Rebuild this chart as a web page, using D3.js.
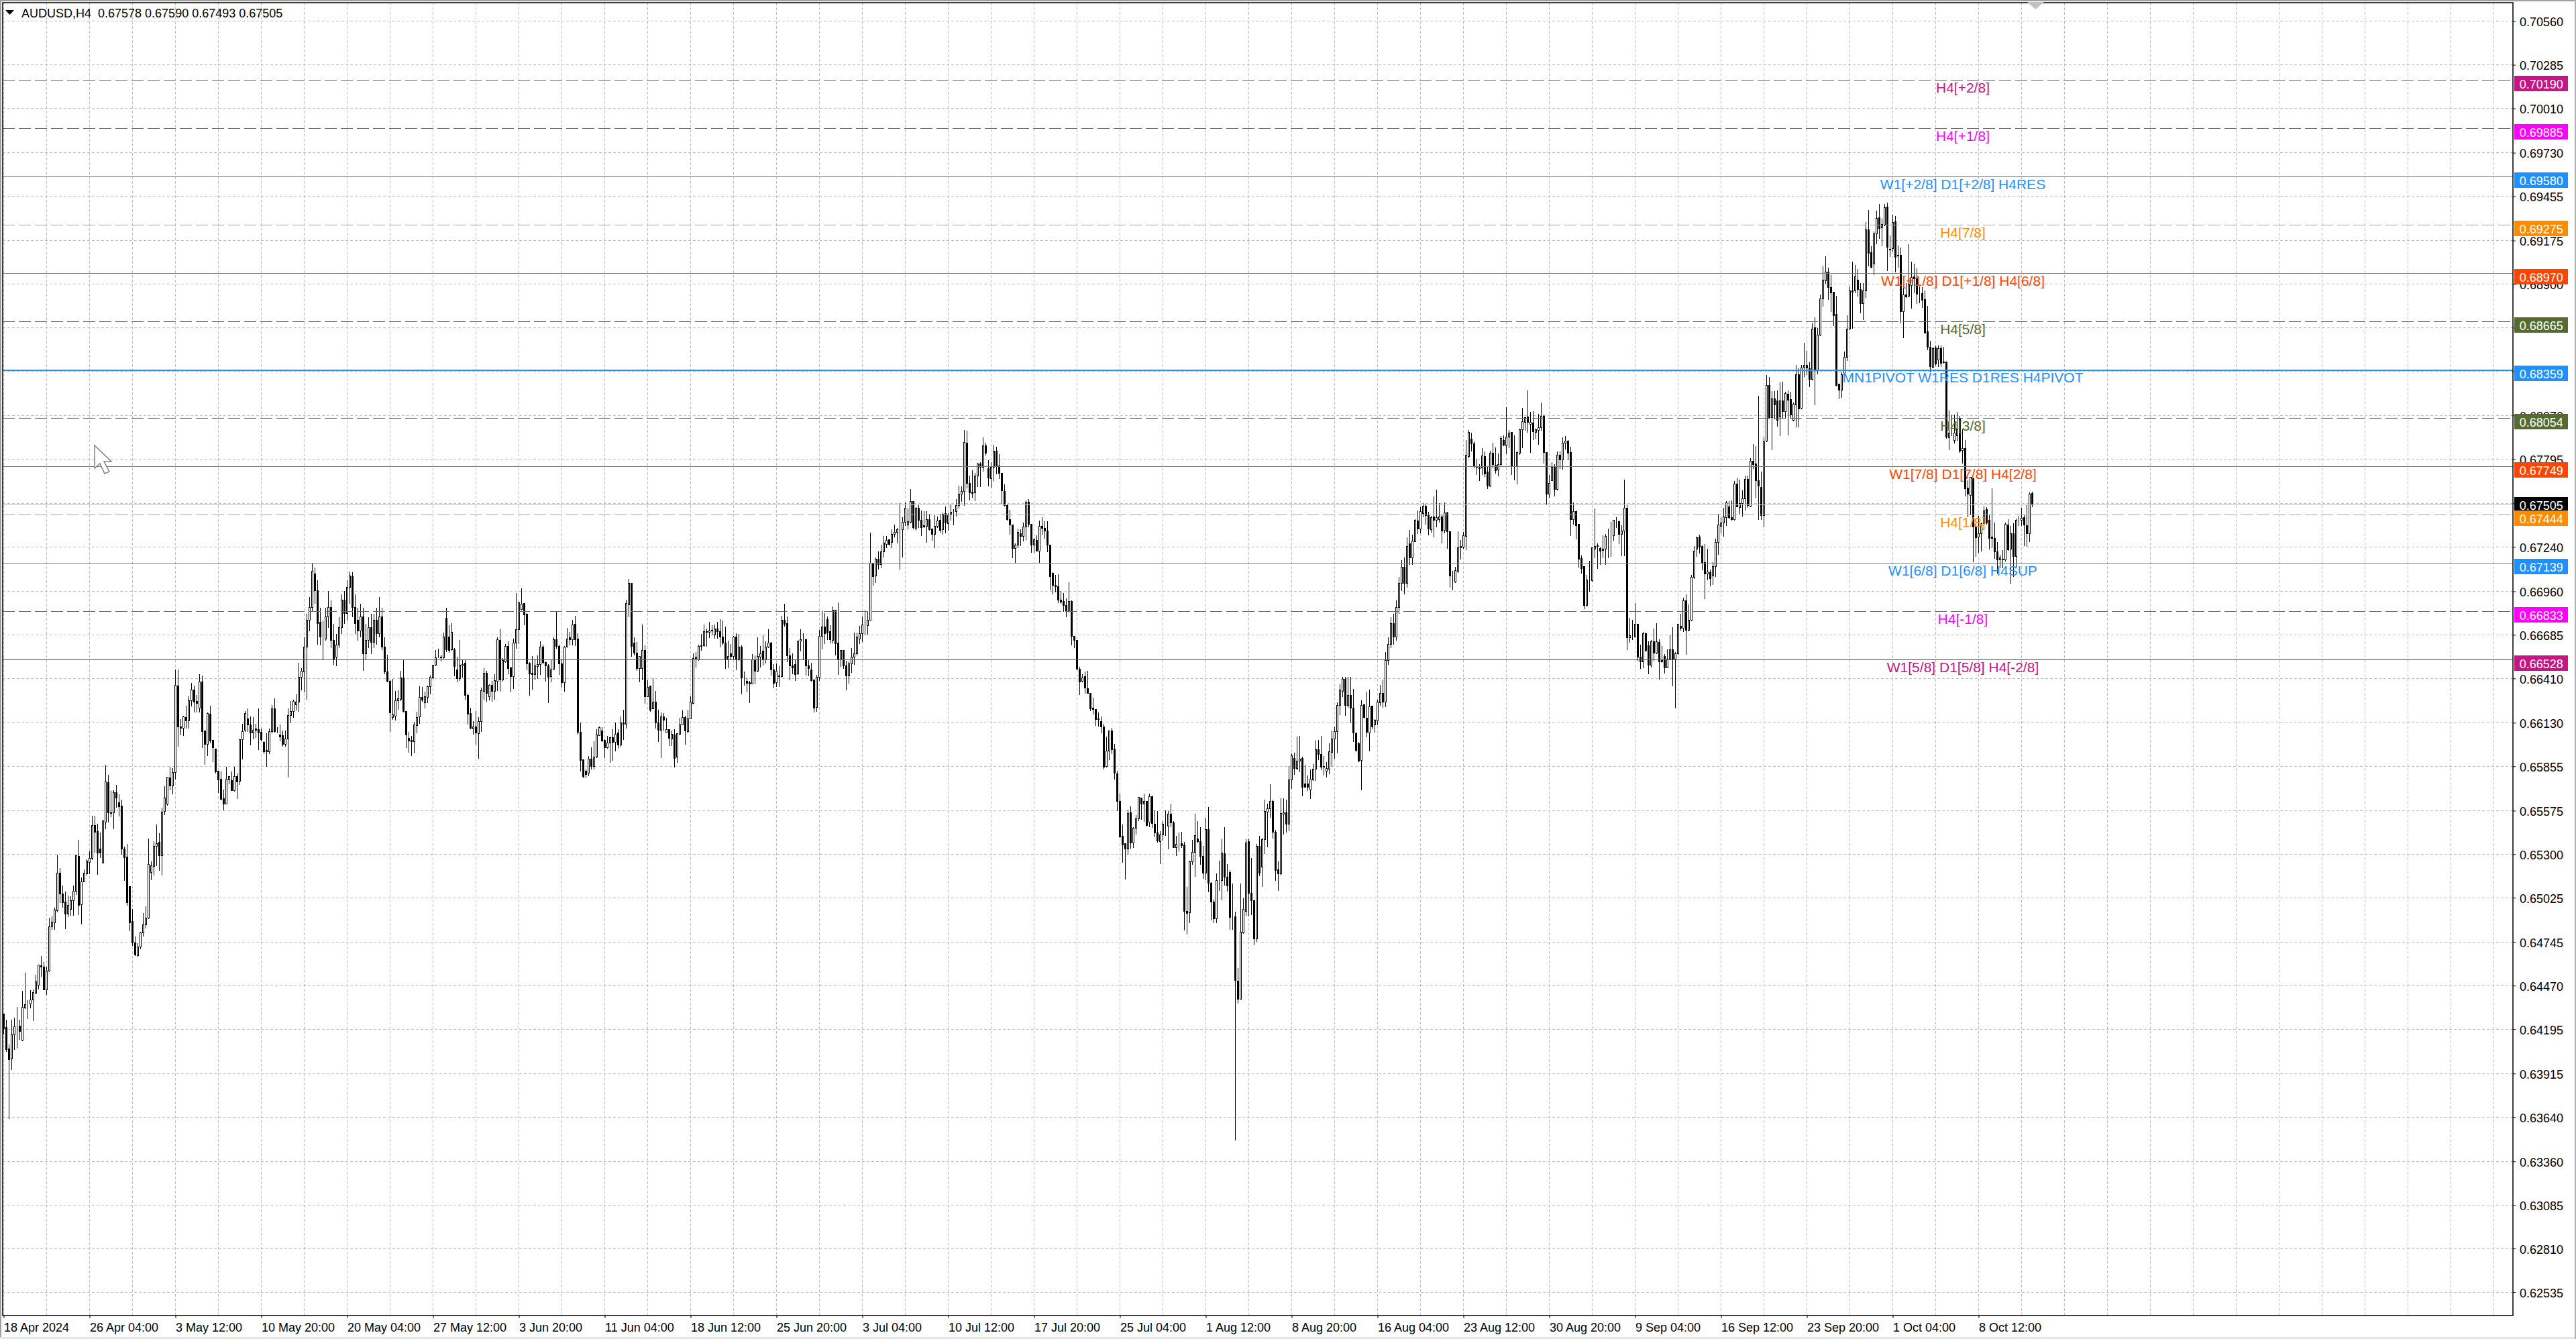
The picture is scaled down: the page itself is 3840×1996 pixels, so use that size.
<!DOCTYPE html>
<html>
<head>
<meta charset="utf-8">
<title>AUDUSD,H4</title>
<script src="https://cdn.jsdelivr.net/npm/d3@7"></script>
<style>
html, body { margin: 0; background: #fff; }
svg { display: block; }
text { font-family: "Liberation Sans", Arial, sans-serif; font-size: 18px; fill: #000; white-space: pre; }
</style>
</head>
<body>
<script>
// H4 candles, one list per three axis labels: [open, high, low, close] in 0.00001
var barsApr18 = [
[64291,64291,64166,64197],[64207,64257,64055,64065],[64069,64102,63631,64005],[64009,64257,63940,64160],[64160,64271,64065,64211],[64215,64336,64075,64215],[64215,64257,64130,64182],[64126,64439,64122,64332],
[64328,64554,64324,64352],[64358,64378,64263,64358],[64356,64443,64328,64380],[64378,64449,64247,64425],[64423,64540,64419,64493],[64473,64603,64449,64600],[64598,64661,64530,64586],[64586,64621,64445,64445],
[64445,64590,64413,64564],[64560,64903,64556,64843],[64843,64908,64823,64873],[64869,64964,64823,64948],[64944,65301,64934,65180],[65180,65213,64994,65049],[65051,65106,64964,64994],[64998,65065,64829,64924],
[64922,65039,64904,64978],[64950,65035,64914,65005],[65005,65106,64914,65065],[65065,65301,65045,65291],[65287,65394,64918,64978],[64982,65156,64857,65126],[65126,65206,65126,65180],[65176,65271,65166,65257],
[65247,65322,65176,65273],[65273,65544,65267,65483],[65483,65544,65314,65439],[65443,65495,65172,65307],[65332,65439,65277,65307],[65243,65514,65243,65510],[65503,65867,65459,65756],[65752,65802,65503,65564],
[65558,65701,65536,65564],[65560,65705,65459,65687],[65687,65738,65596,65657],[65625,65681,65540,65600],[65606,65645,65301,65332],[65332,65348,65136,65277],[65281,65368,64978,64994],[65095,65095,64817,64869],
[64877,64954,64722,64742],[64742,64782,64661,64665],[64661,64742,64655,64716],[64716,64813,64702,64803],[64803,64930,64782,64853],[64853,64974,64833,64897],[64897,65402,64893,65237],[65186,65257,65140,65227],
[65223,65382,65166,65348],[65348,65489,65227,65368],[65374,65435,65196,65291],[65291,65596,65170,65566],[65570,65732,65550,65655],[65615,65792,65610,65786],[65782,65853,65705,65732],[65732,65847,65681,65817],
[65817,66469,65772,66368],[66364,66469,65980,66105],[66105,66156,66055,66095],[66095,66176,66049,66166],[66162,66241,66095,66142],[66142,66297,66095,66271],[66271,66384,66237,66338],[66338,66368,66196,66263],
[66267,66307,66196,66251],[66223,66439,66196,66388],[66388,66429,65974,66075],[66079,66079,65867,65994],[65994,66196,65924,66190],[66186,66241,66004,66015],[66019,66025,65883,65974],[65964,65968,65813,65819],
[65823,65827,65691,65768],[65772,65823,65641,65645],[65651,65711,65580,65617],[65617,65853,65617,65772],[65768,65796,65746,65792],[65766,65823,65701,65701],[65701,65853,65697,65792],[65792,65813,65651,65758],
[65762,66029,65738,66025],[66025,66126,65899,66075],[66085,66206,66075,66190],[66156,66223,66075,66115],[66115,66170,65988,66065],[66065,66166,66029,66081],[66091,66126,66035,66085],[66089,66223,65960,66065]
];
var barsMay10 = [
[66069,66095,66015,66025],[66008,66015,65934,65948],[65954,66065,65853,65948],[65948,66095,65934,66075],[66075,66243,66065,66218],[66218,66287,66069,66075],[66073,66105,66065,66073],[66053,66122,66015,66041],
[66049,66085,65980,65992],[65992,66085,65980,66029],[66029,66223,65788,66176],[66176,66271,66130,66202],[66202,66277,66162,66267],[66243,66311,66210,66259],[66263,66509,66202,66416],[66416,66479,66338,66457],
[66453,66671,66324,66610],[66610,66818,66276,66776],[66776,66924,66712,66860],[66860,67136,66839,67085],[67072,67114,66882,66966],[66966,67030,66627,66755],[66763,66860,66619,66670],[66661,66776,66534,66661],
[66661,66860,66649,66797],[66797,66966,66733,66860],[66860,66903,66606,66649],[66649,66755,66500,66534],[66543,66691,66488,66619],[66619,66797,66606,66733],[66733,66945,66691,66903],[66903,66966,66755,66818],
[66818,67030,66776,66987],[66987,67085,66882,67059],[67051,67081,66797,66860],[66860,66945,66691,66755],[66776,66860,66649,66712],[66712,66882,66670,66797],[66797,66860,66458,66568],[66568,66755,66526,66649],
[66649,66797,66606,66733],[66733,66818,66568,66640],[66640,66818,66606,66776],[66776,66860,66627,66691],[66691,66924,66670,66797],[66797,66860,66593,66610],[66610,66671,66439,66453],[66453,66560,66388,66394],
[66394,66400,66075,66192],[66162,66408,66150,66180],[66172,66332,66146,66271],[66271,66338,66216,66283],[66277,66459,66271,66412],[66412,66530,66196,66202],[66202,66206,65974,66055],[66031,66075,65944,66015],
[66018,66049,65920,66010],[66010,66136,65940,66115],[66112,66202,66065,66162],[66166,66364,66126,66291],[66291,66358,66267,66273],[66257,66328,66223,66295],[66291,66368,66257,66358],[66358,66429,66311,66418],
[66412,66499,66408,66493],[66493,66590,66489,66540],[66546,66600,66540,66546],[66540,66560,66520,66545],[66540,66700,66535,66671],[66790,66860,66580,66590],[66671,66750,66575,66586],[66590,66760,66585,66700],
[66590,66606,66425,66485],[66465,66550,66388,66408],[66408,66655,66398,66493],[66489,66534,66418,66499],[66505,66530,66277,66303],[66303,66317,66122,66186],[66188,66226,66092,66095],[66092,66142,66057,66106],
[66106,66205,65996,66064],[66061,66166,65906,66140],[66139,66353,66075,66332],[66329,66476,66276,66442],[66442,66462,66264,66315],[66294,66374,66273,66367],[66367,66395,66264,66329],[66329,66438,66278,66395],
[66393,66673,66332,66653],[66649,66724,66329,66400],[66400,66541,66391,66522],[66515,66631,66512,66614],[66614,66648,66438,66473],[66476,66487,66325,66421],[66421,66663,66346,66635],[66635,66950,66600,66720]
];
var barsJun03 = [
[66720,66896,66631,66889],[66844,66983,66840,66878],[66882,66885,66748,66811],[66814,66826,66466,66504],[66507,66515,66304,66438],[66442,66555,66342,66435],[66435,66536,66400,66491],[66487,66558,66410,66498],
[66498,66645,66433,66607],[66607,66625,66504,66511],[66512,66518,66393,66490],[66491,66501,66257,66417],[66424,66534,66388,66466],[66469,66670,66466,66653],[66653,66833,66600,66611],[66614,66625,66433,66504],
[66501,66536,66353,66384],[66384,66617,66329,66610],[66610,66730,66607,66661],[66666,66706,66621,66656],[66656,66780,66621,66748],[66751,66809,66617,66656],[66661,66699,66057,66071],[66070,66135,65824,65891],
[65895,65902,65782,65789],[65824,65838,65782,65803],[65810,65923,65796,65902],[65902,65975,65838,65853],[65853,66015,65838,65912],[65912,66092,65909,66053],[66050,66109,66050,66099],[66078,66106,66011,66015],
[66018,66029,65909,65972],[65972,66050,65968,66001],[66001,66043,65881,66036],[66036,66092,65892,66008],[66008,66132,65951,66057],[66064,66092,65968,65991],[65991,66174,65982,66128],[66128,66216,66022,66120],
[66123,66910,66095,66882],[66875,67041,66797,67009],[67009,67016,66548,66611],[66635,66670,66558,66572],[66572,66642,66459,66473],[66473,66548,66388,66548],[66473,66751,66402,66586],[66586,66621,66254,66294],
[66294,66400,66294,66356],[66363,66367,66202,66212],[66219,66414,66219,66259],[66259,66332,66095,66128],[66128,66216,66011,66082],[66082,66198,65909,66166],[66166,66194,66085,66146],[66071,66163,66071,66089],
[66089,66092,65987,66033],[66029,66085,65987,66057],[66053,66092,65848,65905],[65912,66064,65878,66060],[66057,66163,66054,66118],[66118,66208,66118,66163],[66163,66177,65994,66078],[66075,66208,66067,66153],
[66153,66297,66153,66259],[66254,66569,66247,66536],[66535,66579,66480,66546],[66529,66625,66522,66614],[66618,66692,66589,66613],[66617,66751,66614,66707],[66704,66727,66614,66701],[66701,66769,66668,66711],
[66715,66748,66684,66710],[66684,66752,66663,66721],[66721,66769,66663,66704],[66707,66786,66607,66670],[66670,66776,66621,66632],[66635,66738,66473,66529],[66529,66649,66477,66548],[66567,66628,66532,66548],
[66548,66682,66532,66673],[66670,66696,66463,66529],[66532,66692,66522,66607],[66607,66621,66311,66412],[66412,66456,66367,66412],[66391,66417,66324,66378],[66383,66398,66257,66376],[66376,66565,66374,66527],
[66527,66558,66374,66455],[66455,66673,66452,66548],[66546,66618,66480,66565],[66582,66684,66494,66532],[66529,66645,66508,66608],[66607,66724,66603,66635],[66635,66642,66431,66466],[66466,66504,66349,66381]
];
var barsJun25 = [
[66384,66508,66360,66456],[66428,66491,66360,66422],[66424,66809,66417,66779],[66779,66885,66741,66751],[66755,66804,66515,66553],[66555,66603,66402,66490],[66491,66572,66438,66477],[66497,66529,66395,66435],
[66438,66649,66434,66648],[66648,66724,66583,66656],[66656,66699,66529,66656],[66656,66663,66431,66490],[66491,66527,66428,66473],[66466,66512,66391,66395],[66400,66402,66198,66222],[66225,66433,66202,66419],
[66419,66720,66395,66677],[66675,66842,66596,66737],[66737,66826,66628,66694],[66780,66804,66656,66699],[66706,66748,66635,66653],[66651,66865,66635,66842],[66842,66842,66558,66631],[66635,66890,66435,66532],
[66529,66593,66484,66589],[66586,66589,66473,66490],[66491,66522,66338,66426],[66428,66518,66381,66504],[66504,66603,66448,66546],[66546,66701,66498,66567],[66565,66701,66558,66673],[66659,66744,66628,66691],
[66691,66804,66642,66749],[66749,66840,66684,66749],[66744,66833,66687,66779],[66779,67333,66776,67138],[67136,67136,66997,67054],[67057,67178,67017,67164],[67164,67213,67100,67129],[67129,67256,67108,67210],
[67210,67312,67178,67265],[67257,67312,67234,67282],[67284,67291,67251,67256],[67268,67354,67234,67322],[67319,67385,67302,67333],[67333,67364,67265,67350],[67353,67519,67100,67353],[67350,67429,67178,67397],
[67397,67523,67375,67485],[67378,67484,67354,67401],[67397,67608,67392,67528],[67528,67533,67354,67361],[67358,67495,67344,67485],[67485,67509,67361,67408],[67411,67471,67312,67364],[67373,67467,67361,67366],
[67371,67467,67270,67413],[67413,67453,67347,67351],[67354,67354,67280,67319],[67319,67446,67234,67371],[67371,67435,67361,67406],[67411,67453,67333,67347],[67350,67460,67319,67446],[67450,67499,67330,67394],
[67389,67456,67347,67443],[67446,67516,67411,67460],[67463,67481,67378,67463],[67466,67545,67435,67502],[67502,67629,67485,67573],[67573,67626,67528,67591],[67591,67982,67502,67900],[67897,67977,67612,67640],
[67643,67693,67538,67584],[67587,67725,67552,67580],[67584,67711,67533,67688],[67688,67773,67622,67766],[67766,67777,67619,67743],[67743,67935,67717,67879],[67880,67900,67822,67831],[67735,67791,67626,67674],
[67672,67777,67618,67745],[67745,67886,67657,67845],[67845,67876,67700,67746],[67752,67827,67671,67704],[67707,67707,67516,67594],[67591,67636,67499,67502],[67506,67516,67408,67415],[67413,67477,67319,67378],
[67380,67382,67171,67230],[67230,67267,67143,67253],[67253,67358,67237,67333],[67326,67354,67248,67309],[67309,67397,67277,67367],[67367,67537,67284,67523],[67523,67545,67368,67385],[67385,67389,67206,67251]
];
var barsJul17 = [
[67251,67298,67206,67288],[67280,67316,67213,67213],[67213,67408,67143,67371],[67371,67432,67319,67358],[67358,67404,67294,67340],[67342,67406,67209,67251],[67253,67256,66969,67055],[67076,67082,66945,66998],
[67000,67065,66955,66990],[66990,67072,66889,66903],[66906,66964,66882,66892],[66896,66952,66833,66871],[66871,66917,66797,66835],[66833,67020,66828,66896],[66896,66903,66621,66677],[66677,66682,66606,66652],
[66652,66656,66470,66470],[66469,66484,66309,66388],[66391,66438,66388,66415],[66424,66456,66318,66349],[66346,66459,66314,66314],[66314,66315,66205,66219],[66222,66290,66184,66215],[66215,66219,66111,66152],
[66157,66198,66109,66152],[66140,66170,66067,66106],[66105,66125,65836,65852],[65856,66044,65848,65953],[65953,66084,65896,66078],[66080,66098,65933,65961],[65963,65997,65775,65812],[65808,65828,65573,65636],
[65636,65686,65404,65408],[65414,65488,65250,65357],[65365,65371,65141,65333],[65333,65585,65301,65557],[65561,65606,65337,65373],[65373,65472,65343,65464],[65464,65549,65428,65523],[65523,65664,65509,65660],
[65656,65660,65519,65616],[65616,65684,65505,65636],[65636,65640,65478,65482],[65503,65684,65474,65664],[65664,65674,65468,65495],[65492,65577,65408,65434],[65434,65573,65377,65383],[65381,65448,65240,65422],
[65424,65513,65387,65492],[65478,65577,65418,65478],[65478,65573,65335,65555],[65553,65620,65474,65499],[65499,65509,65343,65343],[65343,65418,65290,65361],[65369,65440,65321,65369],[65369,65442,65343,65353],
[65357,65379,64822,64939],[64939,65094,64796,64927],[64929,65262,64868,65254],[65254,65391,65236,65311],[65311,65559,65161,65418],[65395,65509,65371,65379],[65381,65472,65236,65286],[65286,65355,65145,65181],
[65181,65533,65139,65456],[65456,65602,65064,65119],[65119,65125,64886,65000],[64998,65014,64868,64893],[64893,65179,64868,65135],[65133,65262,65072,65133],[65135,65398,65012,65307],[65303,65472,65105,65157],
[65155,65238,65068,65101],[65185,65202,64826,64903],[64907,65119,64826,64907],[64907,64939,63495,64503],[64499,64583,64357,64385],[64385,65119,64385,64806],[64802,65024,64798,64953],[64939,65398,64913,65371],
[65379,65402,64911,65054],[65054,65278,64919,65008],[65008,65012,64727,64767],[64767,65367,64749,65351],[65351,65418,65165,65179],[65218,65404,65095,65393],[65393,65646,65303,65569],[65567,65620,65347,65589],
[65589,65745,65533,65636],[65634,65648,65402,65438],[65438,65458,65133,65198],[65202,65256,65072,65175],[65175,65656,65169,65557],[65553,65654,65428,65561],[65561,65646,65438,65492],[65492,65858,65448,65771]
];
var barsAug08 = [
[65771,65937,65715,65923],[65903,65943,65802,65842],[65842,66044,65832,65886],[65886,66048,65822,65900],[65903,65917,65666,65725],[65743,65866,65721,65725],[65743,65799,65701,65721],[65707,65836,65650,65775],
[65771,65872,65765,65838],[65836,66018,65767,65961],[65961,66024,65896,65929],[65929,66048,65832,65848],[65848,65923,65801,65856],[65824,65882,65787,65840],[65836,66001,65808,65949],[65945,66084,65856,66028],
[66026,66105,65903,66074],[66074,66262,65937,66240],[66240,66377,66179,66337],[66329,66422,66296,66403],[66403,66422,66175,66240],[66240,66422,66226,66304],[66304,66422,66131,66224],[66224,66347,66010,66064],
[66060,66074,65949,65957],[66000,66010,65882,65888],[65892,66272,65705,66240],[66242,66246,66159,66163],[66161,66327,66040,66072],[66068,66343,65953,66232],[66236,66240,66090,66105],[66115,66155,66070,66145],
[66143,66276,66115,66260],[66256,66369,66240,66317],[66317,66407,66226,66262],[66260,66577,66232,66522],[66522,66670,66500,66627],[66627,66797,66606,66755],[66755,66818,66627,66670],[66670,66903,66649,66860],
[66860,67051,66818,67009],[67009,67157,66966,67114],[67114,67178,66945,67009],[67009,67305,66987,67242],[67262,67348,67128,67173],[67173,67318,67131,67278],[67275,67419,67272,67409],[67405,67474,67323,67353],
[67353,67495,67328,67465],[67452,67519,67429,67499],[67499,67515,67382,67437],[67440,67465,67315,67352],[67348,67440,67332,67427],[67432,67560,67303,67407],[67407,67602,67368,67424],[67415,67519,67395,67429],
[67432,67449,67265,67340],[67345,67524,67328,67454],[67454,67465,67232,67335],[67337,67340,66986,67056],[67056,67090,66968,67056],[67018,67118,67014,67090],[67085,67340,67078,67235],[67235,67285,67165,67242],
[67240,67337,67231,67310],[67308,67916,67223,67819],[67813,67983,67803,67966],[67923,67966,67844,67893],[67893,67908,67741,67746],[67748,67799,67696,67743],[67741,67766,67657,67736],[67741,67866,67696,67814],
[67813,67846,67686,67702],[67716,67749,67607,67624],[67624,67849,67619,67833],[67833,67900,67741,67761],[67758,67869,67704,67724],[67728,67833,67689,67761],[67761,67941,67758,67925],[67911,67946,67879,67883],
[67879,68125,67829,67936],[67936,67983,67866,67961],[67963,67970,67696,67746],[67749,67946,67662,67749],[67746,67846,67637,67838],[67833,67991,67824,67983],[67983,68120,67866,68030],[68028,68067,67975,68058],
[68062,68230,67966,68028],[68013,68097,67836,68028],[68023,68100,67916,67970],[67966,67991,67925,67981],[67978,68083,67886,67993],[67993,68155,67975,68067],[68067,68080,67769,67836],[67838,67841,67507,67576]
];
var barsAug30 = [
[67576,67699,67552,67644],[67661,67779,67657,67743],[67743,67766,67562,67602],[67604,67846,67599,67819],[67819,67846,67737,67789],[67789,67936,67732,67898],[67898,67941,67858,67909],[67908,67916,67791,67833],
[67836,67874,67312,67414],[67414,67524,67382,67462],[67465,67474,67290,67377],[67382,67385,67111,67165],[67168,67190,67073,67106],[67118,67123,66851,66872],[66871,67065,66867,67031],[67031,67156,66961,67031],
[67026,67240,67023,67235],[67228,67487,67173,67243],[67247,67265,67106,67242],[67230,67240,67128,67215],[67220,67315,67173,67228],[67228,67323,67131,67307],[67310,67357,67173,67310],[67315,67402,67181,67315],
[67310,67415,67282,67407],[67397,67429,67362,67397],[67402,67407,67262,67318],[67318,67378,67185,67340],[67340,67666,67185,67487],[67485,67512,66593,66667],[66667,66794,66637,66680],[66677,66781,66655,66677],
[66672,66886,66672,66752],[66752,66756,66522,66544],[66544,66627,66472,66513],[66513,66705,66477,66694],[66694,66700,66580,66588],[66617,66647,66438,66493],[66493,66655,66480,66644],[66644,66727,66522,66570],
[66570,66761,66564,66644],[66639,66660,66405,66517],[66513,66617,66510,66525],[66547,66567,66443,66477],[66477,66594,66477,66530],[66530,66684,66527,66592],[66592,66734,66363,66533],[66533,66580,66221,66567],
[66568,66756,66563,66752],[66740,66822,66714,66727],[66727,66922,66705,66901],[66901,66944,66560,66714],[66714,66881,66709,66777],[66777,67065,66772,67048],[67048,67248,67039,67215],[67228,67307,67181,67298],
[67302,67320,67201,67240],[67245,67252,67095,67140],[67143,67262,66914,67068],[67071,67232,67031,67081],[67078,67098,66994,67039],[67056,67145,67001,67118],[67115,67295,67053,67268],[67268,67452,67195,67378],
[67372,67432,67328,67393],[67393,67490,67308,67429],[67425,67532,67377,67517],[67494,67532,67419,67424],[67424,67535,67407,67414],[67415,67657,67407,67637],[67637,67679,67492,67495],[67490,67666,67445,67515],
[67515,67599,67435,67545],[67545,67691,67474,67669],[67669,67691,67490,67504],[67499,67803,67495,67783],[67783,67891,67736,67761],[67763,67879,67552,67657],[67657,68197,67415,67626],[67616,67719,67412,67440],
[67440,67936,67365,67906],[67909,68330,67906,68260],[68260,68317,68050,68058],[68058,68225,67853,68175],[68175,68225,68050,68137],[68163,68230,68000,68041],[68062,68280,67942,68161],[68165,68287,68055,68097],
[68097,68224,68058,68210],[68207,68231,67949,68168],[68170,68224,68055,68072],[68041,68153,68034,68142],[68139,68393,67998,68330],[68330,68372,67998,68114],[68118,68393,68114,68372],[68376,68531,68316,68386]
];
var barsSep23 = [
[68386,68481,68330,68369],[68365,68407,68252,68299],[68299,68654,68295,68616],[68623,68692,68139,68358],[68358,68626,68334,68577],[68577,68837,68574,68809],[68806,69014,68760,68925],[68922,69080,68904,68978],
[68978,69007,68802,68878],[68877,68960,68725,68844],[68851,68851,68636,68703],[68708,68830,68255,68259],[68269,68273,68175,68231],[68231,68344,68184,68327],[68327,68478,68323,68440],[68438,68706,68419,68615],
[68615,68887,68612,68856],[68856,69045,68619,68850],[68856,69025,68844,68947],[68926,68997,68823,68866],[68866,68908,68717,68778],[68778,68908,68675,68859],[68859,69296,68816,69245],[69243,69372,69013,69094],
[69098,69140,69002,69007],[69028,69236,68960,69218],[69218,69366,69155,69315],[69321,69408,69190,69253],[69256,69317,69143,69277],[69274,69408,69267,69384],[69387,69418,68985,69133],[69122,69208,69073,69116],
[69124,69342,69109,69291],[69294,69331,68978,69070],[69084,69148,69007,69077],[69084,69133,68654,68725],[68727,68880,68562,68833],[68833,68908,68816,68819],[68823,69155,68819,68898],[68890,69045,68746,68943],
[68946,69030,68844,68936],[68936,69002,68777,68837],[68840,68887,68781,68840],[68842,68884,68753,68798],[68802,68861,68591,68593],[68598,68763,68485,68502],[68502,68545,68344,68379],[68376,68506,68372,68495],
[68499,68513,68386,68396],[68421,68513,68379,68495],[68495,68513,68379,68399],[68407,68506,68400,68403],[68410,68414,67925,67936],[67932,68102,67852,67958],[67962,68080,67941,67962],[67911,68080,67898,67958],
[67941,68097,67911,67983],[68055,68068,67835,67847],[67848,67985,67768,67862],[67862,67919,67562,67606],[67613,67665,67430,67576],[67566,67686,67449,67679],[67672,67679,67146,67366],[67366,67383,67181,67298],
[67303,67439,67207,67324],[67324,67397,67214,67386],[67387,67500,67376,67470],[67475,67492,67383,67393],[67407,67444,67228,67294],[67301,67613,67235,67296],[67296,67397,67167,67210],[67211,67274,67073,67157],
[67160,67195,67108,67171],[67164,67221,67108,67160],[67160,67397,67150,67383],[67380,67418,67218,67221],[67225,67376,67012,67325],[67325,67390,67052,67181],[67181,67421,67108,67407],[67407,67439,67373,67407],
[67407,67489,67373,67423],[67428,67447,67249,67379],[67376,67510,67242,67324],[67324,67588,67273,67576],[67578,67590,67493,67505]
];

var priceTicks = [0.70560,0.70285,0.70010,0.69730,0.69455,0.69175,0.68900,0.68625,0.68350,0.68070,0.67795,0.67515,0.67240,0.66960,0.66685,
	0.66410,0.66130,0.65855,0.65575,0.65300,0.65025,0.64745,0.64470,0.64195,0.63915,0.63640,0.63360,0.63085,0.62810,0.62535];
var timeLabels = ["18 Apr 2024","26 Apr 04:00","3 May 12:00","10 May 20:00","20 May 04:00","27 May 12:00","3 Jun 20:00","11 Jun 04:00",
	"18 Jun 12:00","25 Jun 20:00","3 Jul 04:00","10 Jul 12:00","17 Jul 20:00","25 Jul 04:00","1 Aug 12:00","8 Aug 20:00",
	"16 Aug 04:00","23 Aug 12:00","30 Aug 20:00","9 Sep 04:00","16 Sep 12:00","23 Sep 20:00","1 Oct 04:00","8 Oct 12:00"];

// murrey levels drawn on top of the chart
var levelPrices = [0.70190,0.69885,0.69580,0.69275,0.68970,0.68665,0.68359,0.68054,0.67749,0.67444,0.67139,0.66833,0.66528];
var levelNames = ["H4[+2/8]","H4[+1/8]","W1[+2/8] D1[+2/8] H4RES","H4[7/8]","W1[+1/8] D1[+1/8] H4[6/8]","H4[5/8]",
	"MN1PIVOT W1RES D1RES H4PIVOT","H4[3/8]","W1[7/8] D1[7/8] H4[2/8]","H4[1/8]","W1[6/8] D1[6/8] H4SUP","H4[-1/8]","W1[5/8] D1[5/8] H4[-2/8]"];
var levelColors = ["#C71585","#FF00FF","#1E90FF","#FF8C00","#FF4500","#556B2F","#1E90FF","#556B2F","#FF4500","#FF8C00","#1E90FF","#FF00FF","#C71585"];
var levelDashed = [1,1,0,1,0,1,0,1,0,1,0,1,0];
var levelWidths = [1,1,1,1,1,1,2,1,1,1,1,1,1];
var lastPrice = 0.67505;
var chartTitle = "AUDUSD,H4  0.67578 0.67590 0.67493 0.67505";

var bars = [].concat(barsApr18, barsMay10, barsJun03, barsJun25, barsJul17, barsAug08, barsAug30, barsSep23);

// set the dimensions of the plot area
var totalWidth = 3840,
	totalHeight = 1996,
	plot = {top: 4, right: 3746, bottom: 1961, left: 4};

// one bar every 4px, a grid line every 16 bars
var xScale = d3.scaleLinear().domain([0, 928]).range([5.5, 3717.5]);
var yScale = d3.scaleLinear().domain([0.70560, 0.62535]).range([31.7, 1926]);
var snap = function(v) { return Math.floor(v) + 0.5; };
var yPoints = function(v) { return snap(yScale(v / 100000)); };

var svg = d3.select("body").append("svg")
	.attr("width", totalWidth)
	.attr("height", totalHeight);

svg.append("rect").attr("width", totalWidth).attr("height", totalHeight).attr("fill", "#fff");

// window edges
svg.append("rect").attr("width", totalWidth).attr("height", 2).attr("fill", "#a0a0a0");
svg.append("rect").attr("width", 2).attr("height", totalHeight).attr("fill", "#a0a0a0");
svg.append("rect").attr("y", totalHeight - 3).attr("width", totalWidth).attr("height", 3).attr("fill", "#e6e6e6");
svg.append("rect").attr("x", totalWidth - 2).attr("width", 2).attr("height", totalHeight).attr("fill", "#b0b0b0");

// grid
var grid = svg.append("g")
	.attr("stroke", "#c0c0c0")
	.attr("stroke-dasharray", "4 3")
	.attr("shape-rendering", "crispEdges");
grid.selectAll("line.h").data(priceTicks).enter().append("line")
	.attr("class", "h")
	.attr("x1", plot.left).attr("x2", plot.right)
	.attr("y1", function(d) { return snap(yScale(d)); })
	.attr("y2", function(d) { return snap(yScale(d)); });
grid.selectAll("line.v").data(d3.range(0, 929, 16)).enter().append("line")
	.attr("class", "v")
	.attr("y1", plot.top).attr("y2", plot.bottom)
	.attr("x1", function(d) { return xScale(d); })
	.attr("x2", function(d) { return xScale(d); });

// candles
var candles = svg.append("g").attr("shape-rendering", "crispEdges");
candles.selectAll("line").data(bars).enter().append("line")
	.attr("x1", function(d, i) { return xScale(i); })
	.attr("x2", function(d, i) { return xScale(i); })
	.attr("y1", function(d) { return yPoints(d[1]); })
	.attr("y2", function(d) { return yPoints(d[2]) + 0.5; })
	.attr("stroke", "#000");
candles.selectAll("rect").data(bars).enter().append("rect")
	.attr("x", function(d, i) { return xScale(i) - 1; })
	.attr("width", 2)
	.attr("y", function(d) { return yPoints(Math.max(d[0], d[3])); })
	.attr("height", function(d) { return Math.max(yPoints(Math.min(d[0], d[3])) - yPoints(Math.max(d[0], d[3])), 0); })
	.attr("fill", function(d) { return d[3] >= d[0] ? "#fff" : "#000"; })
	.attr("stroke", "#000");

// current price and levels
svg.append("line")
	.attr("x1", plot.left).attr("x2", plot.right)
	.attr("y1", snap(yScale(lastPrice))).attr("y2", snap(yScale(lastPrice)))
	.attr("stroke", "#c0c0c0")
	.attr("shape-rendering", "crispEdges");

var levels = svg.append("g");
levels.selectAll("line").data(levelPrices).enter().append("line")
	.attr("x1", plot.left)
	.attr("x2", function(d, i) { return levelDashed[i] ? plot.right - 3 : plot.right; })
	.attr("y1", function(d) { return snap(yScale(d)); })
	.attr("y2", function(d) { return snap(yScale(d)); })
	.attr("stroke", function(d, i) { return levelColors[i]; })
	.attr("stroke-width", function(d, i) { return levelWidths[i]; })
	.attr("stroke-dasharray", function(d, i) { return levelDashed[i] ? "18 6" : null; })
	.attr("shape-rendering", "crispEdges");
levels.selectAll("text").data(levelPrices).enter().append("text")
	.attr("x", 2926)
	.attr("y", function(d) { return snap(yScale(d)) + 18.5; })
	.attr("text-anchor", "middle")
	.style("font-size", "21px")
	.style("fill", function(d, i) { return levelColors[i]; })
	.text(function(d, i) { return levelNames[i]; });

// frame
svg.append("path")
	.attr("d", "M" + plot.left + "," + plot.bottom + "V" + plot.top + "H" + plot.right + "V" + plot.bottom + "Z")
	.attr("fill", "none")
	.attr("stroke", "#000")
	.attr("stroke-width", 1.5);

// axes
var yAxis = d3.axisRight(yScale)
	.tickValues(priceTicks)
	.tickFormat(d3.format(".5f"))
	.tickSize(4)
	.tickPadding(6);
var xAxis = d3.axisBottom(xScale)
	.tickValues(timeLabels.map(function(d, i) { return i * 32; }))
	.tickFormat(function(d, i) { return timeLabels[i]; })
	.tickSize(4);

var yGroup = svg.append("g").attr("transform", "translate(" + plot.right + ",0)").call(yAxis);
yGroup.select(".domain").remove();
yGroup.selectAll("text").attr("dy", null).attr("y", 7).style("font-size", "18px").style("font-family", "Liberation Sans");

var xGroup = svg.append("g").attr("transform", "translate(0," + plot.bottom + ")").call(xAxis);
xGroup.select(".domain").remove();
xGroup.selectAll("text").attr("dy", null).attr("y", 23.5).attr("x", 0).attr("text-anchor", "start")
	.style("font-size", "18px").style("font-family", "Liberation Sans");

// price tags on the right axis
var tagLeft = plot.right + 2;
var drawTag = function(price, color, top) {
	svg.append("rect").attr("x", tagLeft).attr("y", top).attr("width", 80).attr("height", 23).attr("fill", color);
	svg.append("text").attr("x", tagLeft + 7.7).attr("y", top + 18.5).style("fill", "#fff").text(d3.format(".5f")(price));
};
drawTag(lastPrice, "#000", Math.floor(yScale(lastPrice)) - 11);
levelPrices.forEach(function(p, i) {
	drawTag(p, levelColors[i], Math.floor(yScale(p)) - 6);
});

// title
svg.append("path").attr("d", "M8,15H21L14.5,22Z").attr("fill", "#000");
svg.append("text").attr("x", 32).attr("y", 26).text(chartTitle);

// chart shift marker and mouse pointer from the screenshot
svg.append("path").attr("d", "M3022,3H3047L3034.5,14Z").attr("fill", "#c0c0c0");
svg.append("path")
	.attr("d", "M141,664V698L149,691L156,706L163,703L155,688L166,688Z")
	.attr("fill", "#fff")
	.attr("stroke", "#808080")
	.attr("stroke-width", 1.5);
</script>
</body>
</html>
